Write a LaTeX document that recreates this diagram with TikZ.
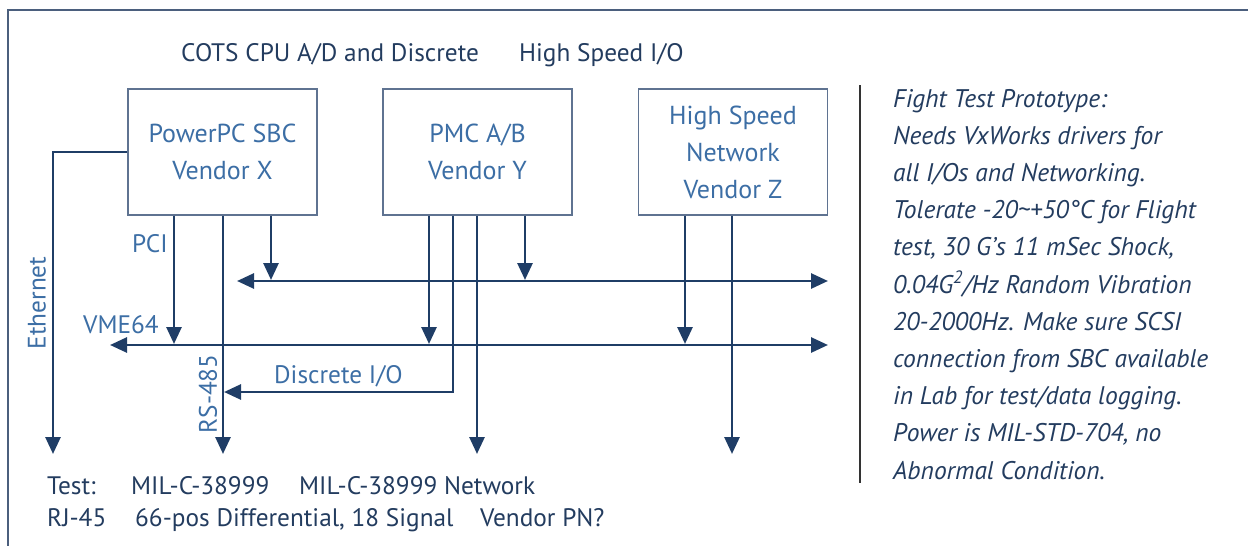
\documentclass[tikz,border=0pt]{standalone}
\usepackage{fontspec}
\setmainfont{PT Sans}
\usetikzlibrary{arrows.meta}
\definecolor{navy}{RGB}{31,61,102}
\definecolor{lblue}{RGB}{60,110,165}
\definecolor{dtext}{RGB}{35,60,95}
\definecolor{boxline}{RGB}{95,115,145}
\definecolor{frameline}{RGB}{75,95,125}
\newcommand\boxfont{\fontsize{26}{37}\selectfont}
\newcommand\lblfont{\fontsize{25.3}{37}\selectfont}
\newcommand\notefont{\fontsize{25.5}{37.2}\selectfont\itshape}
\begin{document}
\begin{tikzpicture}[x=1pt,y=-1pt,
  unit/.style={draw=boxline, line width=1.4pt, minimum width=189pt, minimum height=126pt,
    inner sep=0pt, align=center, text=lblue, font=\boxfont},
  conn/.style={draw=navy, line width=2.8pt},
  arr/.style={conn, -{Triangle[length=17pt,width=15pt]}},
  darr/.style={conn, {Triangle[length=17pt,width=15pt]}-{Triangle[length=17pt,width=15pt]}},
  lbl/.style={text=lblue, font=\lblfont, inner sep=0pt},
  txt/.style={text=dtext, font=\lblfont, inner sep=0pt, anchor=base west}]
\useasboundingbox (0,0) rectangle (1248,546);
% outer frame
\draw[frameline, line width=1.5pt] (8,546) -- (8,10) -- (1248,10);
% header
\node[txt] (h1) at (181,61) {COTS CPU A/D and Discrete};
\node[txt] (h2) at (519,61) {High Speed I/O};
% units
\node[unit] (sbc) at (222.5,152) {PowerPC SBC\\Vendor X};
\node[unit] (pmc) at (477.5,152) {PMC A/B\\Vendor Y};
\node[unit] (hs) at (733,152) {High Speed\\Network\\Vendor Z};
% coordinates
\coordinate (ubl) at (237,281);
\coordinate (ubr) at (828,281);
\coordinate (vmel) at (110,345);
\coordinate (vmer) at (828,345);
\coordinate (eth) at (53,454);
\coordinate (pci) at (174,344);
\coordinate (rs) at (223,454);
\coordinate (sbcub) at (271,280);
\coordinate (pmc1) at (429,344);
\coordinate (dioturn) at (453,392);
\coordinate (dio) at (224,392);
\coordinate (pmc3) at (477,454);
\coordinate (pmcub) at (525,280);
\coordinate (hs1) at (685,344);
\coordinate (hs2) at (732,454);
% buses
\draw[darr] (ubl) -- (ubr);
\draw[darr] (vmel) -- (vmer);
% connectors
\draw[arr] (sbc.west) -| (eth);
\draw[arr] (sbc.south -| pci) -- (pci);
\draw[arr] (sbc.south -| rs) -- (rs);
\draw[arr] (sbc.south -| sbcub) -- (sbcub);
\draw[arr] (pmc.south -| pmc1) -- (pmc1);
\draw[arr] (pmc.south -| dioturn) -- (dioturn) -- (dio);
\draw[arr] (pmc.south -| pmc3) -- (pmc3);
\draw[arr] (pmc.south -| pmcub) -- (pmcub);
\draw[arr] (hs.south -| hs1) -- (hs1);
\draw[arr] (hs.south -| hs2) -- (hs2);
% labels
\node[lbl, anchor=base west] (lpci) at (132,252) {PCI};
\node[lbl, anchor=base west] (lvme) at (83,333) {VME64};
\node[lbl, rotate=90] (leth) at (37,303) {Ethernet};
\node[lbl, rotate=90] (lrs) at (208,394) {RS-485};
\node[lbl, anchor=base west] (ldio) at (274,383) {Discrete I/O};
% bottom text
\node[txt] (b1) at (47,494) {Test:};
\node[txt] (b2) at (131,494) {MIL-C-38999};
\node[txt] (b3) at (299,494) {MIL-C-38999 Network};
\node[txt] (b4) at (47,526) {RJ-45};
\node[txt] (b5) at (135,526) {66-pos Differential, 18 Signal};
\node[txt] (b6) at (480,526) {Vendor PN?};
% separator and note
\draw[black!80, line width=1.4pt] (860,85) -- (860,483);
\node[anchor=base west, inner sep=0pt, align=left, text=dtext, font=\notefont] (note) at (893,479)
 {Fight Test Prototype:\\
  Needs VxWorks drivers for\\
  all I/Os and Networking.\\
  Tolerate -20\textasciitilde+50°C for Flight\\
  test, 30 G’s 11 mSec Shock,\\
  0.04G\textsuperscript{2}/Hz Random Vibration\\
  20-2000Hz. Make sure SCSI\\
  connection from SBC available\\
  in Lab for test/data logging.\\
  Power is MIL-STD-704, no\\
  Abnormal Condition.};
\end{tikzpicture}
\end{document}
